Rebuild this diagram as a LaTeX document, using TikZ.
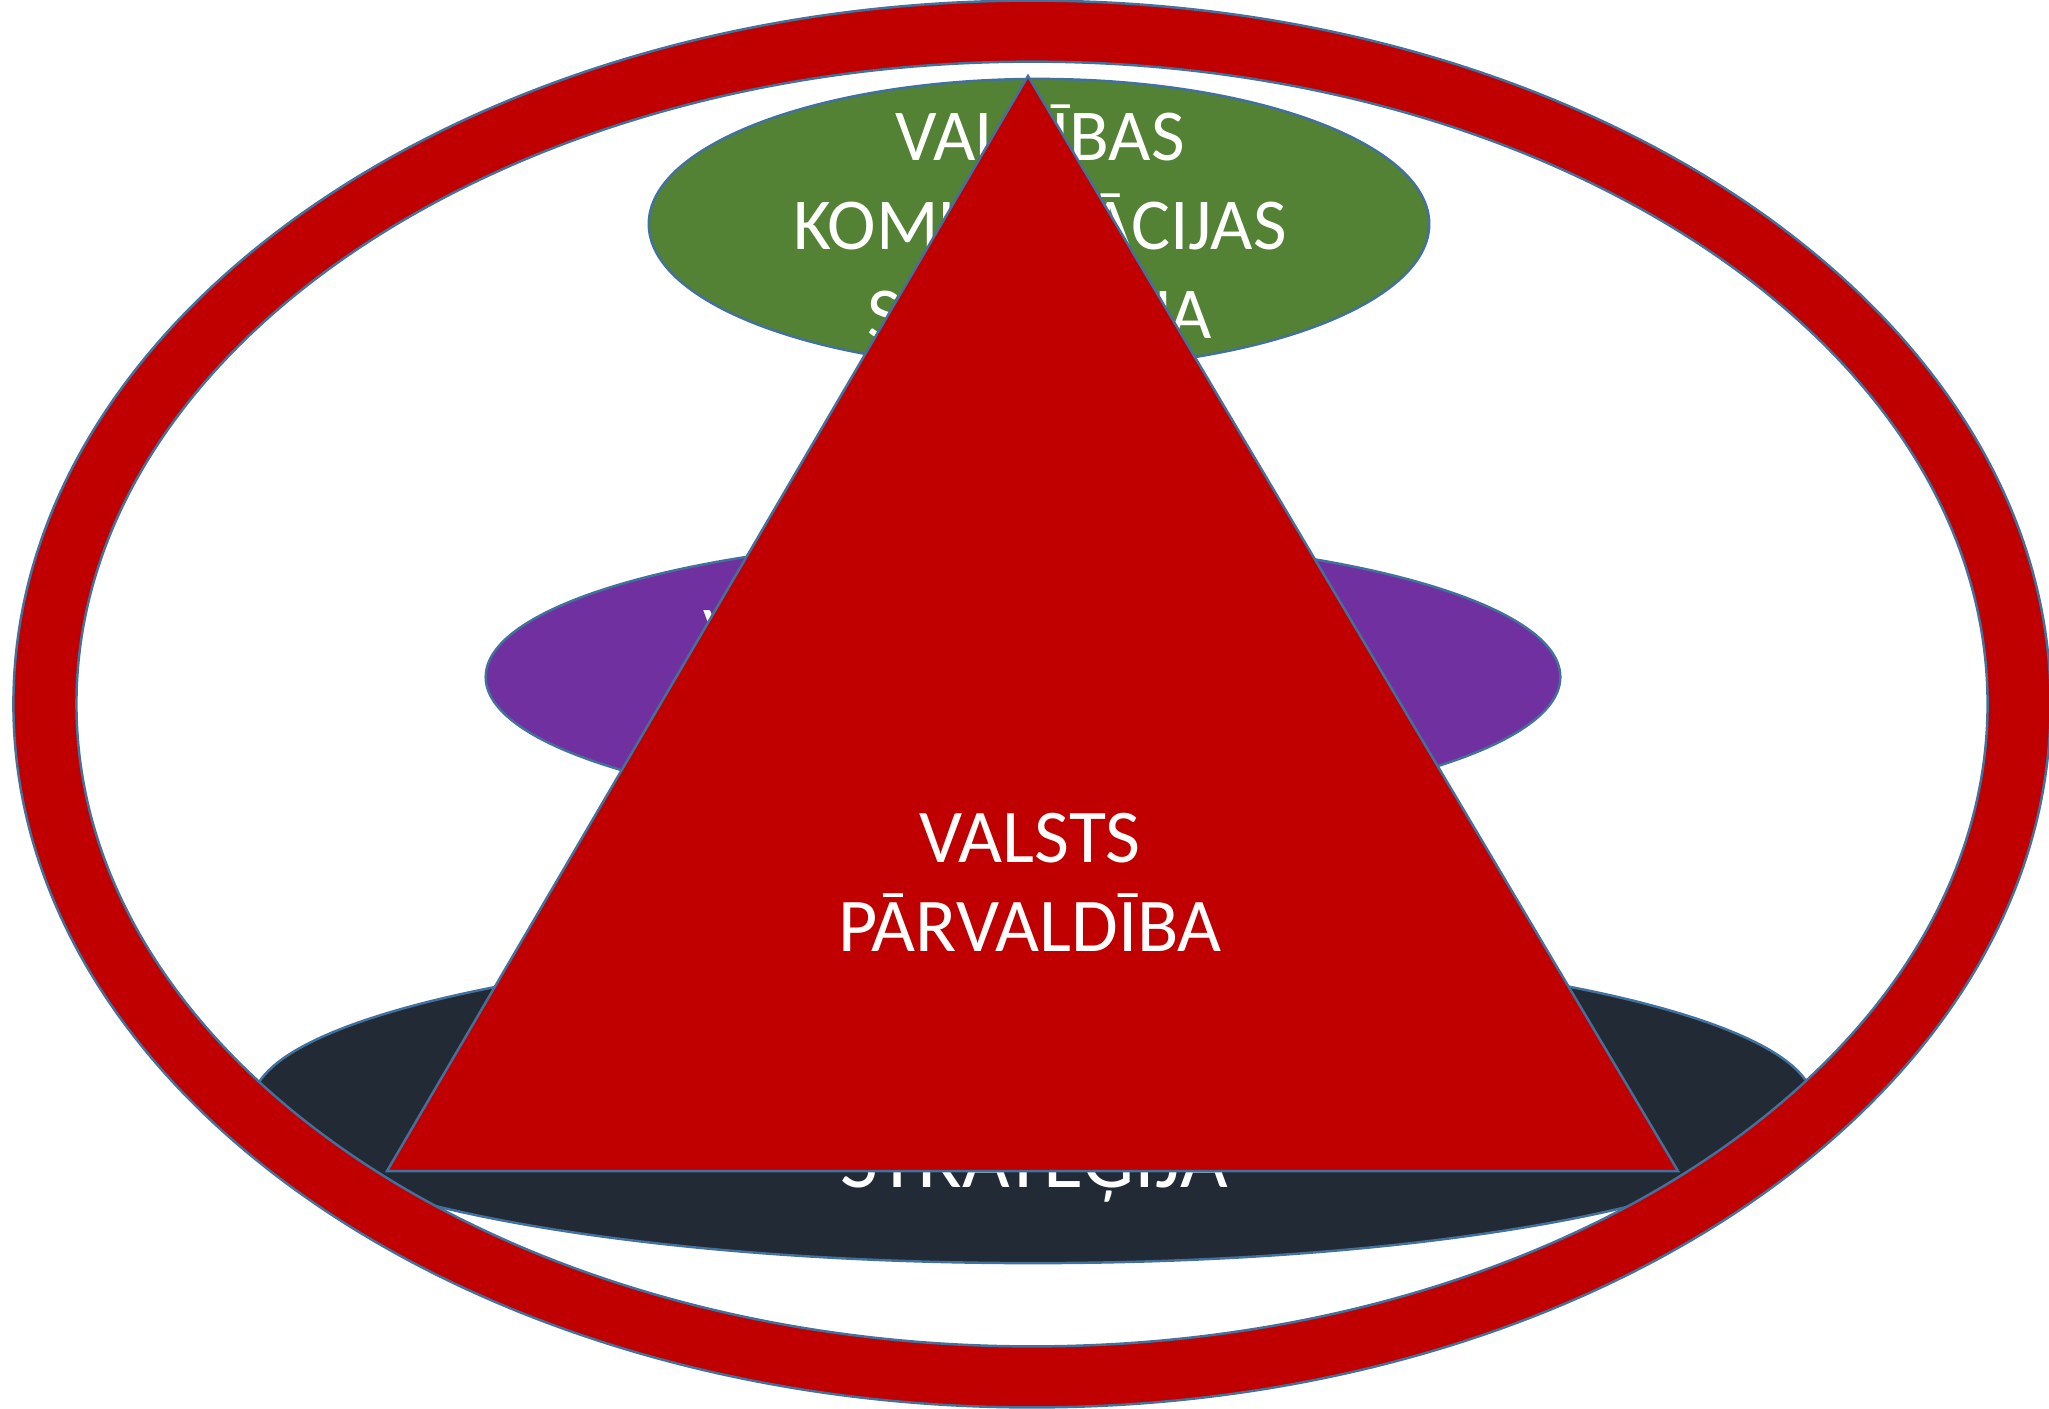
\documentclass[tikz,border=0pt]{standalone}
\usepackage{fontspec}
\setmainfont{Carlito}
\definecolor{ringred}{RGB}{192,0,0}
\definecolor{grn}{RGB}{84,130,53}
\definecolor{purp}{RGB}{112,48,160}
\definecolor{darkblue}{RGB}{34,42,53}
\definecolor{edgeblue}{RGB}{65,113,156}
\begin{document}
\begin{tikzpicture}[x=0.01cm,y=-0.01cm,
  shapeedge/.style={draw=edgeblue, line width=0.7pt},
  lbl/.style={text=white, inner sep=0pt, anchor=base},
  smallfont/.style={font=\fontsize{20.8}{25}\selectfont},
  trifont/.style={font=\fontsize{21.6}{26}\selectfont},
  midfont/.style={font=\fontsize{23.4}{28}\selectfont}]
\useasboundingbox (0,0) rectangle (2049,1408);
% dark ellipse
\coordinate (dc) at (1033,1103);
\filldraw[fill=darkblue, shapeedge] (dc) ellipse (7.8cm and 1.6cm);
\node[lbl, midfont] (dtext) at (1034,1187) {STRATĒĢIJA};
% purple ellipse
\coordinate (pc) at (1023,677);
\filldraw[fill=purp, shapeedge] (pc) ellipse (5.37cm and 1.40cm);
\node[lbl, smallfont, anchor=base west] (ptext) at (703,657) {V};
% green ellipse
\coordinate (gc) at (1039,224);
\filldraw[fill=grn, shapeedge] (gc) ellipse (3.90cm and 1.45cm);
\node[lbl, smallfont] (g1) at (1040,160) {VALDĪBAS};
\node[lbl, smallfont] (g2) at (1040,249) {KOMUNIKĀCIJAS};
\node[lbl, smallfont] (g3) at (1040,338) {STRATĒĢIJA};
% ring
\coordinate (rc) at (1032,704);
\fill[ringred, even odd rule] (rc) ellipse (10.18cm and 7.03cm) (rc) ellipse (9.55cm and 6.42cm);
\draw[shapeedge] (rc) ellipse (10.18cm and 7.03cm);
\draw[shapeedge] (rc) ellipse (9.55cm and 6.42cm);
% triangle
\coordinate (ta) at (1028,76);
\coordinate (tr) at (1678,1171);
\coordinate (tl) at (387,1171);
\filldraw[fill=ringred, shapeedge] (ta) -- (tr) -- (tl) -- cycle;
\node[lbl, trifont] (t1) at (1030,862) {VALSTS};
\node[lbl, trifont] (t2) at (1030,951) {PĀRVALDĪBA};
\end{tikzpicture}
\end{document}
